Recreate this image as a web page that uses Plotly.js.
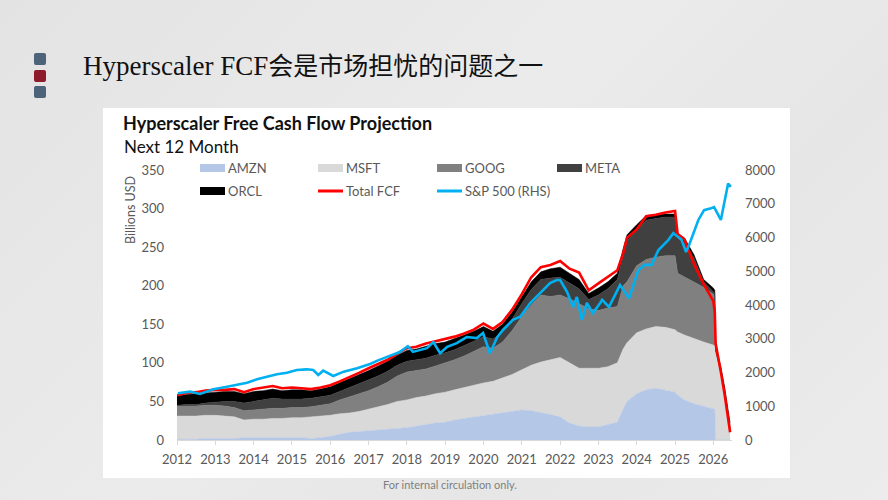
<!DOCTYPE html>
<html>
<head>
<meta charset="utf-8">
<script src="https://cdn.plot.ly/plotly-3.0.1.min.js"></script>
<style>
  html,body{margin:0;padding:0;}
  body{width:888px;height:500px;overflow:hidden;position:relative;
       background:linear-gradient(135deg,#e3e3e3 0%,#ebebeb 45%,#e6e6e6 70%,#ececec 100%);}
  .bul{position:absolute;left:34px;width:12px;height:12px;border-radius:2px;}
  #ttl{position:absolute;left:83px;top:49px;white-space:nowrap;color:#111;line-height:30px;height:30px;}
  #ttl .la{font-family:"Liberation Serif",serif;font-size:27px;}
  #ttl .zh{font-family:"Noto Sans CJK SC",sans-serif;font-size:25px;}
  #panel{position:absolute;left:103px;top:108px;width:687px;height:370px;background:#fff;}
  #foot{position:absolute;left:0;width:900px;top:478px;text-align:center;font-family:Lato,sans-serif;font-size:11px;color:#7f7f7f;}
  #chart{position:absolute;left:0;top:0;width:888px;height:500px;}
</style>
</head>
<body>
<div class="bul" style="top:53px;background:#4d6379;"></div>
<div class="bul" style="top:70px;background:#8e1b2b;"></div>
<div class="bul" style="top:86px;background:#4d6379;"></div>
<div id="ttl"><span class="la">Hyperscaler FCF</span><span class="zh">会是市场担忧的问题之一</span></div>
<div id="panel"></div>
<div id="foot">For internal circulation only.</div>
<div id="chart"></div>
<script>
// ---------------- data ----------------
const fcfDates = ['2012-01-01','2012-04-01','2012-07-01','2012-10-01','2013-01-01','2013-04-01','2013-07-01','2013-10-01',
  '2014-01-01','2014-04-01','2014-07-01','2014-10-01','2015-01-01','2015-04-01','2015-07-01','2015-10-01',
  '2016-01-01','2016-04-01','2016-07-01','2016-10-01','2017-01-01','2017-04-01','2017-07-01','2017-10-01',
  '2018-01-01','2018-04-01','2018-07-01','2018-10-01','2019-01-01','2019-04-01','2019-07-01','2019-10-01',
  '2020-01-01','2020-04-01','2020-07-01','2020-10-01','2021-01-01','2021-04-01','2021-07-01','2021-10-01',
  '2022-01-01','2022-04-01','2022-07-01','2022-10-01','2023-01-01','2023-04-01','2023-07-01','2023-08-25',
  '2023-10-01','2024-01-01','2024-04-01','2024-07-01','2024-10-01','2025-01-01','2025-01-26','2025-04-01',
  '2025-07-01','2025-10-01','2026-01-01','2026-01-15','2026-01-23','2026-03-14','2026-04-20','2026-06-10'];
const amzn = [1,1,1,2,2,2,2,3, 3,3,3,3,3,3,2,3, 5,8,10,11,12,13,14,15, 16,18,20,22,23,26,28,30,
  32,33,35,37,39,38,36,33, 30,22,18,17,17,20,23,40, 50,60,65,67,65,62,58,52, 47,44,41,40,0,0,0,0];
const msft = [30,30,30,30,30,29,28,23, 24,24,25,25,26,26,28,28, 27,26,25,26,28,30,32,35, 36,37,37,38,39,39,40,41,
  42,43,45,48,52,59,65,71, 77,78,75,76,76,75,77,78, 76,79,79,80,81,81,82,84, 84,83,82,82,115,88,60,14];
const goog = [13,13,13,13,13,13,12,12, 12,13,13,13,13,13,13,14, 15,18,21,23,24,26,29,33, 36,35,35,36,38,39,41,44,
  47,43,47,57,69,78,87,82, 81,83,84,77,75,76,73,82, 79,87,90,90,93,96,76,75, 74,71,66,64,0,0,0,0];
const meta = [1,2,2,3,4,6,8,10, 11,12,13,12,11,11,11,11, 11,11,12,13,14,14,14,14, 14,14,14,14,13,13,14,13,
  13,12,13,15,17,20,20,24, 23,21,19,12,20,25,35,38, 53,46,51,50,50,50,46,44, 31,7,4,4,0,0,0,0];
const orcl = [12,13,14,13,13,13,13,12, 13,12,12,11,12,12,10,10, 11,11,11,11,12,13,13,13, 14,14,15,15,14,14,13,13,
  13,10,10,9,9,10,10,12, 13,12,12,8,9,9,8,10, 8,7,6,5,4,4,6,7, 4,3,4,4,7,7,8,8];
const totalFcf = [58,61,62,64,65,65,66,62, 66,68,70,67,68,67,66,68, 71,76,82,87,93,99,104,112, 119,121,125,128,131,134,138,143,
  151,144,153,169,189,211,224,227, 232,222,217,194,203,212,220,242, 262,273,290,292,295,297,267,260, 228,202,180,165,125,88,58,10];

const spxDates = ['2012-01-10','2012-05-05','2012-08-07','2012-12-12','2013-04-22','2013-07-26','2013-10-30',
  '2014-02-02','2014-05-08','2014-08-11','2014-11-14','2015-02-17','2015-05-23','2015-07-23','2015-09-09','2015-10-26',
  '2016-01-30','2016-05-08','2016-09-13','2017-01-15','2017-04-01','2017-08-25','2017-10-20',
  '2018-01-10','2018-02-28','2018-07-12','2018-09-10','2018-11-14','2019-01-20','2019-04-22','2019-07-26','2019-10-30','2019-12-28',
  '2020-03-03','2020-05-12','2020-07-05','2020-10-08','2020-12-17','2021-03-22','2021-06-24','2021-09-27','2021-12-01',
  '2022-01-01','2022-03-08','2022-05-05','2022-06-10','2022-07-27','2022-09-13','2022-11-10',
  '2023-01-18','2023-02-06','2023-04-12','2023-07-26','2023-10-20',
  '2024-01-18','2024-03-18','2024-05-22','2024-07-27','2024-10-30','2024-12-16',
  '2025-03-04','2025-04-16','2025-05-15','2025-08-11','2025-10-05','2025-12-10',
  '2026-01-08','2026-03-14','2026-04-12','2026-05-22','2026-06-17'];
const spx = [1383,1432,1363,1501,1580,1630,1699, 1798,1877,1946,1995,2074,2094,2074,1926,2054,
  1896,2025,2124,2252,2360,2520,2600, 2780,2610,2720,2900,2570,2760,2870,3050,3020,3170,
  2570,3050,3260,3560,3650,4060,4350,4650,4740, 4740,4390,3940,4240,3560,4060,3760,
  4060,4150,3940,4590,4200, 5040,5190,5190,5630,5930,6130, 5930,5570,5780,6520,6810,6870,
  6900,6520,7020,7600,7500];

const yearTicks = ['2012','2013','2014','2015','2016','2017','2018','2019','2020','2021','2022','2023','2024','2025','2026'];
const leftTicks = [0,50,100,150,200,250,300,350];
const rightTicks = [0,1000,2000,3000,4000,5000,6000,7000,8000];
const seriesNames = ['AMZN','MSFT','GOOG','META','ORCL','Total FCF','S&P 500 (RHS)'];

// ---------------- styles ----------------
const colors = ['#b4c7e7','#d9d9d9','#808080','#404040','#000000','#ff0000','#00b0f0'];
const txt = '#595959';
const FONT = 'Lato, "Open Sans", sans-serif';

// plot area in pixels
const L = 177, R = 732, T = 170, B = 440;
const px = x => (x - L) / (R - L);
const py = y => (B - y) / (B - T);

const stacks = [amzn, msft, goog, meta, orcl];
const traces = stacks.map((arr, i) => ({
  type: 'scatter', mode: 'lines', x: fcfDates, y: arr, name: seriesNames[i],
  stackgroup: 'fcf', fillcolor: colors[i], line: {width: 0.5, color: colors[i]},
  hoverinfo: 'skip'
}));
traces.push({type: 'scatter', mode: 'lines', x: fcfDates, y: totalFcf, name: seriesNames[5],
  line: {color: colors[5], width: 2.6}, hoverinfo: 'skip'});
traces.push({type: 'scatter', mode: 'lines', x: spxDates, y: spx, name: seriesNames[6], yaxis: 'y2',
  line: {color: colors[6], width: 2.6}, hoverinfo: 'skip'});

// custom legend
const colX = [200, 318, 437, 557];
const rowY = [168, 191];
const shapes = [], annotations = [];
seriesNames.forEach((n, i) => {
  const c = i % 4, r = Math.floor(i / 4);
  const x0 = colX[c], x1 = colX[c] + 25, yc = rowY[r];
  if (i < 5) {
    shapes.push({type: 'rect', xref: 'paper', yref: 'paper', x0: px(x0), x1: px(x1),
      y0: py(yc + 4), y1: py(yc - 4), fillcolor: colors[i], line: {width: 0}});
  } else {
    shapes.push({type: 'line', xref: 'paper', yref: 'paper', x0: px(x0), x1: px(x1),
      y0: py(yc), y1: py(yc), line: {color: colors[i], width: 3}});
  }
  annotations.push({xref: 'paper', yref: 'paper', x: px(x1 + 1), y: py(yc), xanchor: 'left', yanchor: 'middle',
    text: n, showarrow: false, font: {family: FONT, size: 13, color: txt}});
});
annotations.push({xref: 'paper', yref: 'paper', x: px(122), y: py(147), xanchor: 'left', yanchor: 'middle',
  text: 'Next 12 Month', showarrow: false, font: {family: FONT, size: 17, color: '#111'}});
annotations.push({xref: 'paper', yref: 'paper', x: px(130), y: py(210), xanchor: 'center', yanchor: 'middle',
  text: 'Billions USD', textangle: -90, showarrow: false, font: {family: FONT, size: 12.5, color: txt}});

const layout = {
  width: 888, height: 500,
  margin: {l: L, r: 888 - R, t: T, b: 500 - B, pad: 0},
  paper_bgcolor: 'rgba(0,0,0,0)', plot_bgcolor: 'rgba(0,0,0,0)',
  showlegend: false,
  title: {text: '<b>Hyperscaler Free Cash Flow Projection</b>', xref: 'container', yref: 'container',
    x: 123 / 888, xanchor: 'left', y: 1 - 124 / 500, yanchor: 'middle',
    font: {family: FONT, size: 18, color: '#111'}},
  xaxis: {type: 'date', range: ['2012-01-01', '2026-06-28'],
    tickvals: yearTicks.map(y => y + '-01-01'), ticktext: yearTicks,
    showline: true, linecolor: '#d9d9d9', linewidth: 1, ticks: 'outside', ticklen: 4, tickcolor: '#d9d9d9',
    showgrid: false, zeroline: false, tickfont: {family: FONT, size: 13, color: txt}, ticklabelstandoff: 3},
  yaxis: {range: [0, 350], tickvals: leftTicks, showgrid: false, zeroline: false, showline: false,
    ticks: '', tickfont: {family: FONT, size: 13, color: txt}, ticklabelstandoff: 12},
  yaxis2: {range: [0, 8000], tickvals: rightTicks, overlaying: 'y', side: 'right', showgrid: false,
    zeroline: false, showline: false, ticks: '', tickfont: {family: FONT, size: 13, color: txt}, ticklabelstandoff: 12},
  shapes: shapes, annotations: annotations
};

Plotly.newPlot('chart', traces, layout, {displayModeBar: false, staticPlot: true});
</script>
</body>
</html>
